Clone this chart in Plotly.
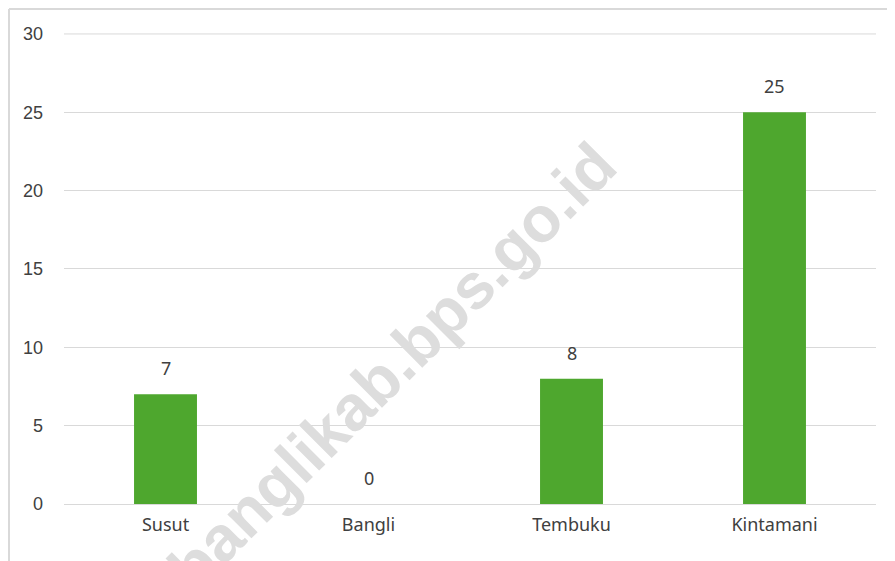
import plotly.graph_objects as go

categories = ["Susut", "Bangli", "Tembuku", "Kintamani"]
values = [7, 0, 8, 25]
y_ticks = [0, 5, 10, 15, 20, 25, 30]

bar_color = "#4EA72E"
text_color = "#404040"
grid_color = "#d9d9d9"

W, H = 887, 553
ML, MR, MT, MB = 56, 19, 25, 57
PW, PH = W - ML - MR, H - MT - MB

fig = go.Figure()
fig.add_trace(go.Bar(
    x=categories, y=values,
    marker=dict(color=bar_color, line=dict(width=0)),
    hoverinfo="x+y",
))

for c, v in zip(categories, values):
    fig.add_annotation(
        x=c, y=v, text=str(v), showarrow=False,
        yanchor="bottom", yshift=12,
        font=dict(family="Noto Sans", size=18, color=text_color),
    )

# watermark
fig.add_annotation(
    xref="paper", yref="paper", x=0.405, y=0.292,
    xanchor="center", yanchor="middle",
    text="<b>banglikab.bps.go.id</b>", showarrow=False, textangle=-45,
    font=dict(family="Liberation Sans", size=64, color="#dddddd"),
)

# top gridline (at the range edge)
fig.add_shape(type="line", xref="paper", yref="y",
              x0=0, x1=1, y0=y_ticks[-1], y1=y_ticks[-1],
              line=dict(color=grid_color, width=1), layer="below")

# chart border (top and left edges)
x_edge = -(ML - 1) / PW
y_edge = 1 + (MT - 1) / PH
fig.add_shape(type="line", xref="paper", yref="paper",
              x0=x_edge, x1=1 + MR / PW, y0=y_edge, y1=y_edge,
              line=dict(color=grid_color, width=2), layer="below")
fig.add_shape(type="line", xref="paper", yref="paper",
              x0=x_edge, x1=x_edge, y0=-MB / PH, y1=y_edge,
              line=dict(color=grid_color, width=2), layer="below")

fig.update_layout(
    width=W, height=H,
    margin=dict(l=ML, r=MR, t=MT, b=MB),
    plot_bgcolor="white", paper_bgcolor="white",
    bargap=0.69,
    showlegend=False,
    xaxis=dict(
        showgrid=False, showline=False, ticks="",
        tickfont=dict(family="Noto Sans", size=18, color=text_color),
        ticklabelstandoff=8,
    ),
    yaxis=dict(
        range=[0, 30.06], tickvals=y_ticks, showgrid=True,
        gridcolor=grid_color, gridwidth=1,
        zeroline=True, zerolinecolor=grid_color, zerolinewidth=1,
        showline=False, ticks="",
        tickfont=dict(family="Liberation Sans", size=18, color=text_color),
        ticklabelstandoff=20,
    ),
)

fig.write_html("out.html")
